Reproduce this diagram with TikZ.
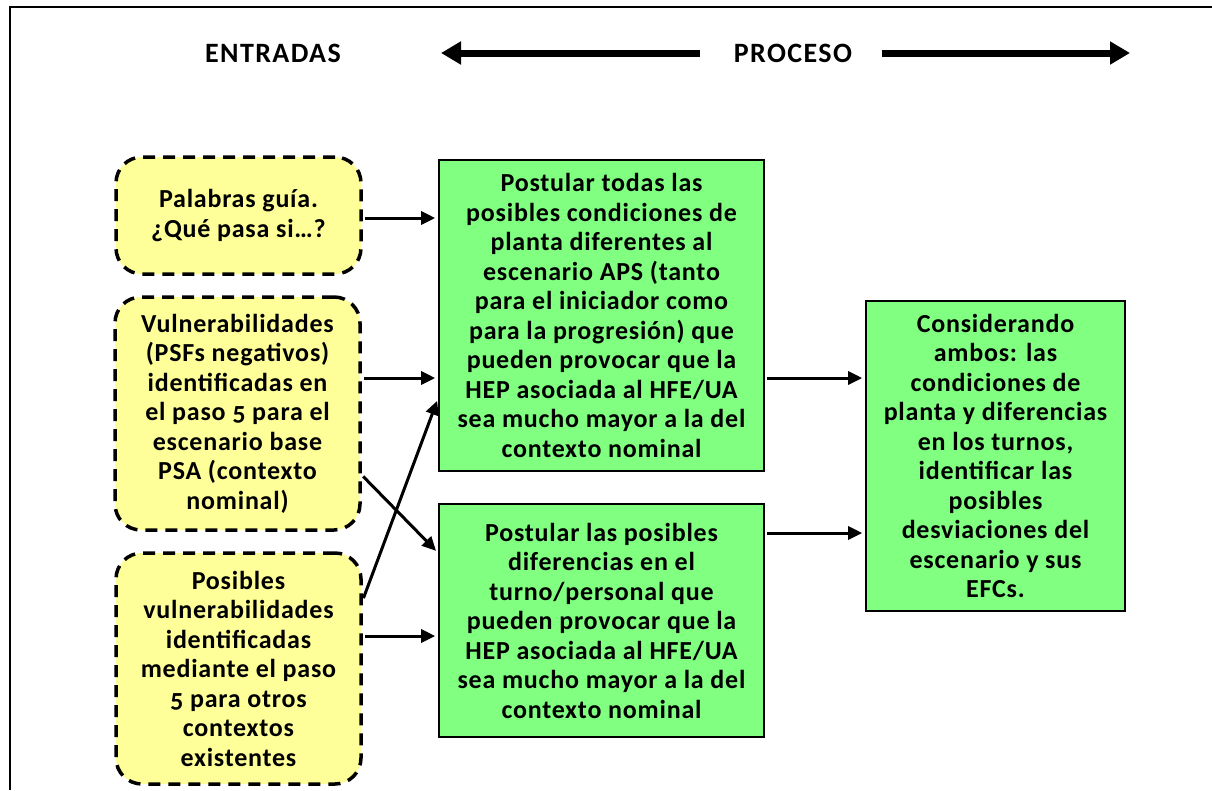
\documentclass[tikz,border=0pt]{standalone}
\usepackage{fontspec}
\setmainfont{Carlito}[Numbers=OldStyle]
\usetikzlibrary{arrows.meta}
\definecolor{inYellow}{RGB}{255,255,153}
\definecolor{procGreen}{RGB}{128,255,128}
\tikzset{
    boxFont/.style={font=\fontsize{26}{29.5}\selectfont\bfseries\addfontfeature{LetterSpace=3}},
    inBox/.style={boxFont, draw, fill=inYellow, line width=3.5pt, dash pattern=on 12pt off 8pt,
        rounded corners=26pt, align=center, inner sep=0pt},
    procBox/.style={boxFont, draw, fill=procGreen, line width=1.6pt, align=center, inner sep=0pt},
    headText/.style={font=\fontsize{28}{30}\selectfont\bfseries\addfontfeature{LetterSpace=5}},
    conn/.style={line width=3pt, -{Triangle[length=14pt,width=13pt]}, shorten >=3pt, shorten <=2pt},
    bigArrow/.style={line width=7pt, -{Triangle[length=20pt,width=22pt]}}
}
\begin{document}
\begin{tikzpicture}[x=1pt,y=-1pt]
			\useasboundingbox (0,0) rectangle (1212,790);
			\fill[white] (0,0) rectangle (1212,790);
			\draw[line width=2pt] (10,790) -- (10,7) -- (1212,7);
			% header
			\node[headText] (entradas) at (273,53) {ENTRADAS};
			\node[headText] (proceso) at (793,53) {PROCESO};
			\coordinate (lTip) at (441,53);
			\coordinate (rTip) at (1130,53);
			\draw[bigArrow, shorten <=30pt] (proceso.west) -- (lTip);
			\draw[bigArrow, shorten <=26pt] (proceso.east) -- (rTip);
			% entradas
			\node[inBox, minimum width=245pt, minimum height=117pt] (guia) at (238.5,215.5)
				{Palabras guía.\\¿Qué pasa si…?};
			\node[inBox, minimum width=245pt, minimum height=233pt] (vulBase) at (237.5,413.5)
				{Vulnerabilidades\\(PSFs negativos)\\identificadas en\\el paso 5 para el\\escenario base\\PSA (contexto\\nominal)};
			\node[inBox, minimum width=245pt, minimum height=231pt] (vulOtros) at (238.5,668.5)
				{Posibles\\vulnerabilidades\\identificadas\\mediante el paso\\5 para otros\\contextos\\existentes};
			% proceso
			\node[procBox, minimum width=325pt, minimum height=311pt] (planta) at (601.5,315.5)
				{Postular todas las\\posibles condiciones de\\planta diferentes al\\escenario APS (tanto\\para el iniciador como\\para la progresión) que\\pueden provocar que la\\HEP asociada al HFE/UA\\sea mucho mayor a la del\\contexto nominal};
			\node[procBox, minimum width=325pt, minimum height=233pt] (turno) at (601.5,620.5)
				{Postular las posibles\\diferencias en el\\turno/personal que\\pueden provocar que la\\HEP asociada al HFE/UA\\sea mucho mayor a la del\\contexto nominal};
			\node[procBox, minimum width=259pt, minimum height=310pt] (desv) at (995.5,456)
				{Considerando\\ambos: las\\condiciones de\\planta y diferencias\\en los turnos,\\identificar las\\posibles\\desviaciones del\\escenario y sus\\EFCs.};
			% conectores
			\draw[conn] ([yshift=-2.5pt]guia.east) -- ([yshift=-2.5pt]guia.east -| planta.west);
			\draw[conn] ([yshift=35.5pt]vulBase.east) -- ([yshift=35.5pt]vulBase.east -| planta.west);
			\draw[conn] ([yshift=-61.5pt]vulBase.east) -- ([yshift=67.5pt]turno.west);
			\draw[conn] ([yshift=68.5pt]vulOtros.east) -- ([yshift=-82.5pt]planta.west);
			\draw[conn] ([yshift=32.5pt]vulOtros.east) -- ([yshift=32.5pt]vulOtros.east -| turno.west);
			\draw[conn] ([yshift=-62.5pt]planta.east) -- ([yshift=-62.5pt]planta.east -| desv.west);
			\draw[conn] ([yshift=87.5pt]turno.east) -- ([yshift=87.5pt]turno.east -| desv.west);
		\end{tikzpicture}
\end{document}
